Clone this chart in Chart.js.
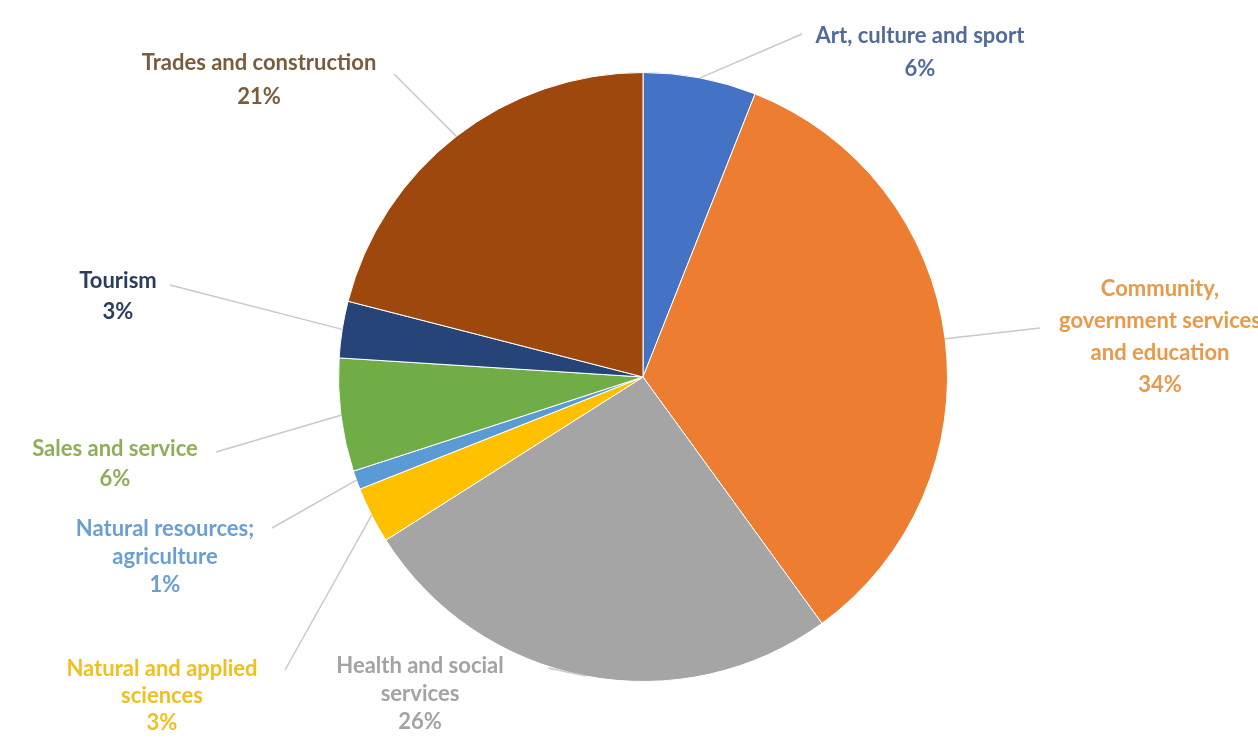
<!DOCTYPE html>
<html>
<head>
<meta charset="utf-8">
<script src="https://cdn.jsdelivr.net/npm/chart.js@4"></script>
<style>
  html, body { margin: 0; padding: 0; background: #fff; }
  #chart { display: block; }
</style>
</head>
<body>
<canvas id="chart" width="1258" height="739"></canvas>
<script>
// sector shares, clockwise from 12 o'clock
const sectors = [
  "Art, culture and sport",
  "Community, government services and education",
  "Health and social services",
  "Natural and applied sciences",
  "Natural resources; agriculture",
  "Sales and service",
  "Tourism",
  "Trades and construction",
];
const shares = [6, 34, 26, 3, 1, 6, 3, 21];
const labelLines = [
  ["Art, culture and sport"],
  ["Community,", "government services", "and education"],
  ["Health and social", "services"],
  ["Natural and applied", "sciences"],
  ["Natural resources;", "agriculture"],
  ["Sales and service"],
  ["Tourism"],
  ["Trades and construction"],
];

const SLICE_COLORS = ["#4472c4", "#ed7d31", "#a5a5a5", "#ffc000", "#5b9bd5", "#70ad47", "#264478", "#9e480e"];
const TEXT_COLORS = ["#4f6a9c", "#e8994a", "#a3a3a3", "#f0c020", "#6b9fd2", "#8fae5a", "#2b3d5e", "#7a5c3c"];

// label block placement: centre x, first baseline y, line gap, leader end point
const LABEL_POS = [
  { x: 920, y: 43, gap: 33, end: [802, 34] },
  { x: 1160, y: 296, gap: 32, end: [1040, 328] },
  { x: 420, y: 673, gap: 28, end: [548, 668] },
  { x: 162, y: 676, gap: 27, end: [285, 670] },
  { x: 165, y: 536, gap: 28, end: [272, 528] },
  { x: 115, y: 456, gap: 30, end: [216, 452] },
  { x: 118, y: 288, gap: 31, end: [170, 285] },
  { x: 259, y: 70, gap: 34, end: [394, 74] },
];

const leaderLabels = {
  id: "leaderLabels",
  afterDraw(chart) {
    const ctx = chart.ctx;
    const meta = chart.getDatasetMeta(0);
    ctx.save();
    meta.data.forEach((arc, i) => {
      const mid = (arc.startAngle + arc.endAngle) / 2;
      const r = arc.outerRadius;
      const sx = arc.x + Math.cos(mid) * r;
      const sy = arc.y + Math.sin(mid) * r;
      const pos = LABEL_POS[i];

      ctx.strokeStyle = "#c9c9c9";
      ctx.lineWidth = 1.5;
      ctx.beginPath();
      ctx.moveTo(sx, sy);
      ctx.lineTo(pos.end[0], pos.end[1]);
      ctx.stroke();

      ctx.fillStyle = TEXT_COLORS[i];
      ctx.font = "bold 22px Lato, 'Open Sans', sans-serif";
      ctx.textAlign = "center";
      ctx.textBaseline = "alphabetic";
      const lines = [...labelLines[i], shares[i] + "%"];
      lines.forEach((t, k) => ctx.fillText(t, pos.x, pos.y + k * pos.gap));
    });
    ctx.restore();
  },
};

new Chart(document.getElementById("chart"), {
  type: "pie",
  data: {
    labels: sectors,
    datasets: [{
      data: shares,
      backgroundColor: SLICE_COLORS,
      borderColor: "#ffffff",
      borderWidth: 1,
    }],
  },
  options: {
    responsive: false,
    animation: false,
    layout: { padding: { left: 28, right: 0, top: 72, bottom: 57 } },
    plugins: {
      legend: { display: false },
      tooltip: { enabled: false },
    },
  },
  plugins: [leaderLabels],
});
</script>
</body>
</html>
